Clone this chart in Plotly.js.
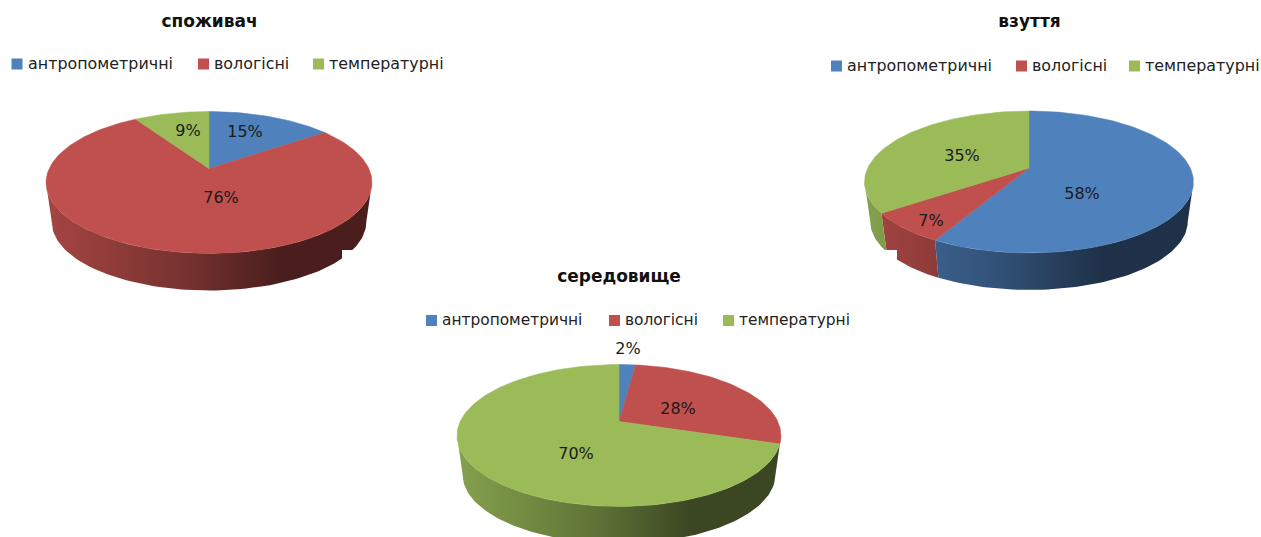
<!DOCTYPE html>
<html>
<head>
<meta charset="utf-8">
<script src="https://cdn.plot.ly/plotly-3.0.1.min.js"></script>
<style>html,body{margin:0;padding:0;background:#fff}#chart{width:1261px;height:537px}</style>
</head>
<body>
<div id="chart"></div>
<script>
// ---- data ----
const categories = ['антропометричні', 'вологісні', 'температурні'];
const titles = ['споживач', 'взуття', 'середовище'];
const spozhyvachValues = [15, 76, 9];
const vzuttiaValues = [58, 7, 35];
const seredovyshcheValues = [2, 28, 70];
const seriesValues = [spozhyvachValues, vzuttiaValues, seredovyshcheValues];

// ---- styles and layout ----
const colors = [[79,129,189],[192,80,77],[155,187,89]];
const FONT = '"DejaVu Sans", sans-serif';
const k = 0.197, yScale = 68.2, wallScale = 0.965, wallDrop = 40;
const frames = [
  {cx:209, cy:168.5, rx:163, titleX:209.5, titleY:23, legSize:15.9,
   legY:64, swatch:[17,203.5,318.5], legText:[28,214,329],
   labels:[[245,133],[221,199],[188,132]]},
  {cx:1029, cy:168, rx:164.5, titleX:1029.5, titleY:23, legSize:15.9,
   legY:66, swatch:[836.5,1021.5,1134.5], legText:[847,1032,1145],
   labels:[[1082,195],[931,222],[962,157]]},
  {cx:619, cy:421.5, rx:162, titleX:619, titleY:278, legSize:15.4,
   legY:320.5, swatch:[431.5,614.5,728.5], legText:[442,625,739],
   labels:[[628,350],[678,410],[576,455]]}
];

function proj(f, deg, scale, drop) {
  const t = deg * Math.PI / 180, u = Math.sin(t), v = Math.cos(t), d = 1 + k * v;
  const B = f.rx * Math.sqrt(1 - k * k);
  return [f.cx + scale * B * u / d, f.cy + drop - scale * yScale * v / d];
}
function arc(f, a, b, scale, drop) {
  const n = Math.max(2, Math.ceil((b - a) / 1.5)), pts = [];
  for (let i = 0; i <= n; i++) pts.push(proj(f, a + (b - a) * i / n, scale, drop));
  return pts;
}
function shade(c, m) { return 'rgb(' + c.map(x => Math.round(x * m)).join(',') + ')'; }
function rgb(c) { return shade(c, 1); }

const traces = [];
function wallTraces(f, values) {
  const silh = Math.acos(-k) * 180 / Math.PI;
  let a = 0;
  values.forEach((val, i) => {
    const b = a + val * 3.6;
    const s = Math.max(a, silh), e = Math.min(b, 360 - silh);
    if (e > s) {
      const pts = arc(f, s, e, 1, 0).concat(arc(f, s, e, wallScale, wallDrop).reverse());
      traces.push({
        type:'scatter', mode:'lines', x:pts.map(p => p[0]), y:pts.map(p => p[1]),
        line:{width:0}, fill:'toself', hoverinfo:'skip', showlegend:false,
        fillgradient:{type:'horizontal', start:f.cx - f.rx, stop:f.cx + f.rx,
          colorscale:[[0,shade(colors[i],0.86)],[0.42,shade(colors[i],0.62)],[0.72,shade(colors[i],0.38)],[1,shade(colors[i],0.38)]]}
      });
    }
    a = b;
  });
}
function topTraces(f, values) {
  let a = 0;
  values.forEach((val, i) => {
    const b = a + val * 3.6;
    const pts = [[f.cx, f.cy]].concat(arc(f, a, b, 1, 0));
    pts.push([f.cx, f.cy]);
    traces.push({
      type:'scatter', mode:'lines', x:pts.map(p => p[0]), y:pts.map(p => p[1]),
      line:{width:0.5, color:rgb(colors[i])}, fill:'toself', fillcolor:rgb(colors[i]),
      name:categories[i], text:val + '%', hoverinfo:'name+text', hoveron:'fills', showlegend:false
    });
    a = b;
  });
}
function textTraces(f, values, title) {
  // title
  traces.push({type:'scatter', mode:'text', x:[f.titleX], y:[f.titleY], text:['<b>' + title + '</b>'],
    textposition:'middle center', textfont:{family:FONT, size:17, color:'#111'}, hoverinfo:'skip', showlegend:false});
  // legend swatches and names
  traces.push({type:'scatter', mode:'markers', x:f.swatch, y:categories.map(() => f.legY),
    marker:{symbol:'square', size:11, color:colors.map(rgb), line:{width:0}}, hoverinfo:'skip', showlegend:false});
  traces.push({type:'scatter', mode:'text', x:f.legText, y:categories.map(() => f.legY + 1), text:categories,
    textposition:'middle right', textfont:{family:FONT, size:f.legSize, color:'#222'}, hoverinfo:'skip', showlegend:false});
  // percent labels
  traces.push({type:'scatter', mode:'text', x:f.labels.map(p => p[0]), y:f.labels.map(p => p[1]),
    text:values.map(v => v + '%'), textposition:'middle center',
    textfont:{family:FONT, size:16, color:'#1a1a1a'}, hoverinfo:'skip', showlegend:false});
}

// first two charts
[0,1].forEach(i => { wallTraces(frames[i], seriesValues[i]); topTraces(frames[i], seriesValues[i]); });
// opaque background of the third chart sits over the first two
traces.push({type:'scatter', mode:'lines', x:[342,897,897,342,342], y:[250,250,537,537,250],
  line:{width:0}, fill:'toself', fillcolor:'#ffffff', hoverinfo:'skip', showlegend:false});
wallTraces(frames[2], seriesValues[2]); topTraces(frames[2], seriesValues[2]);
frames.forEach((f, i) => textTraces(f, seriesValues[i], titles[i]));

const layout = {
  width:1261, height:537, margin:{l:0, r:0, t:0, b:0},
  paper_bgcolor:'#fff', plot_bgcolor:'#fff', showlegend:false, hovermode:'closest',
  xaxis:{range:[0,1261], visible:false, fixedrange:true},
  yaxis:{range:[537,0], visible:false, fixedrange:true}
};
Plotly.newPlot('chart', traces, layout, {displayModeBar:false, responsive:false});
</script>
</body>
</html>
